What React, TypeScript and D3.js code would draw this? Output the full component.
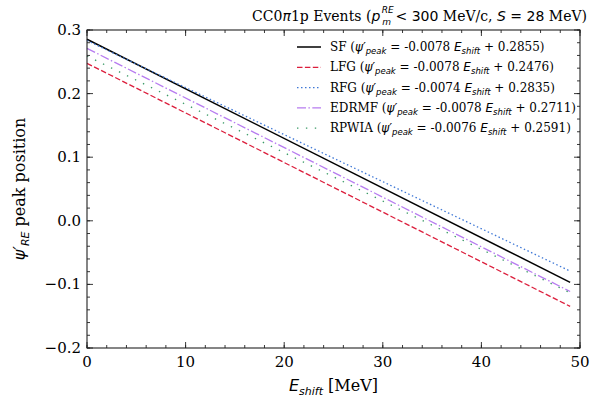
import React from "react";
import * as d3 from "d3";

const models = ["SF", "LFG", "RFG", "EDRMF", "RPWIA"];
const slopes = [-0.0078, -0.0078, -0.0074, -0.0078, -0.0076];
const intercepts = [0.2855, 0.2476, 0.2835, 0.2711, 0.2591];
const eshiftRange = [0, 49];
const colors = ["#000000", "#dc1e3c", "#3f78d6", "#b77cf0", "#3a9a66"];
const dashes = ["", "5.5,2.4", "1.5,2.5", "9,2.4,1.5,2.4", "1.4,7.5"];
const xTicks = [0, 10, 20, 30, 40, 50];
const yTicks = [-0.2, -0.1, 0.0, 0.1, 0.2, 0.3];

const W = 590, H = 399;
const L = 87, R = 580, T = 30, B = 348;
const serif = "'DejaVu Serif', serif";
const sans = "'DejaVu Sans', sans-serif";

export default function App() {
  const x = d3.scaleLinear().domain([0, 50]).range([L, R]);
  const y = d3.scaleLinear().domain([-0.2, 0.3]).range([B, T]);
  const line = d3.line<number>().x((d) => d[0]).y((d) => d[1]);

  const xMinor = d3.range(0, 50.001, 2);
  const yMinor = d3.range(-0.2, 0.3001, 0.02);

  const fmtY = (v: number) => {
    const s = Math.abs(v).toFixed(1);
    return v < -1e-9 ? "\u2212" + s : s;
  };

  return (
    <svg width={W} height={H} style={{ position: "absolute", left: 0, top: 0, background: "#fff" }}>
      <rect x={0} y={0} width={W} height={H} fill="#fff" />
      {/* lines */}
      <g>
        {models.map((m, i) => {
          const pts = eshiftRange.map((e) => [x(e), y(slopes[i] * e + intercepts[i])]);
          return (
            <path
              key={m}
              d={line(pts as any) || ""}
              fill="none"
              stroke={colors[i]}
              strokeWidth={i === 0 ? 1.5 : 1.3}
              strokeDasharray={dashes[i]}
            />
          );
        })}
      </g>
      {/* ticks */}
      <g stroke="#222" strokeWidth={0.9}>
        {xMinor.map((v, i) => (
          <g key={"xm" + i}>
            <line x1={x(v)} x2={x(v)} y1={B} y2={B - 3} />
            <line x1={x(v)} x2={x(v)} y1={T} y2={T + 3} />
          </g>
        ))}
        {xTicks.map((v, i) => (
          <g key={"xM" + i}>
            <line x1={x(v)} x2={x(v)} y1={B} y2={B - 6} />
            <line x1={x(v)} x2={x(v)} y1={T} y2={T + 6} />
          </g>
        ))}
        {yMinor.map((v, i) => (
          <g key={"ym" + i}>
            <line x1={L} x2={L + 3} y1={y(v)} y2={y(v)} />
            <line x1={R} x2={R - 3} y1={y(v)} y2={y(v)} />
          </g>
        ))}
        {yTicks.map((v, i) => (
          <g key={"yM" + i}>
            <line x1={L} x2={L + 6} y1={y(v)} y2={y(v)} />
            <line x1={R} x2={R - 6} y1={y(v)} y2={y(v)} />
          </g>
        ))}
      </g>
      <rect x={L} y={T} width={R - L} height={B - T} fill="none" stroke="#222" strokeWidth={1.1} />
      {/* tick labels */}
      <g fontFamily={serif} fontSize={15} fill="#000">
        {xTicks.map((v) => (
          <text key={"xl" + v} x={x(v)} y={B + 19} textAnchor="middle">
            {v}
          </text>
        ))}
        {yTicks.map((v) => (
          <text key={"yl" + v} x={L - 6} y={y(v) + 5} textAnchor="end">
            {fmtY(v)}
          </text>
        ))}
      </g>
      {/* axis labels */}
      <text x={(L + R) / 2} y={391} textAnchor="middle" fontFamily={serif} fontSize={16}>
        <tspan fontFamily={sans} fontStyle="italic">E</tspan>
        <tspan fontFamily={sans} fontStyle="italic" fontSize={11} dy={4}>shift</tspan>
        <tspan dy={-4}> [MeV]</tspan>
      </text>
      <text
        transform={`translate(25, ${(T + B) / 2}) rotate(-90)`}
        textAnchor="middle"
        fontFamily={serif}
        fontSize={16}
      >
        <tspan fontFamily={sans} fontStyle="italic">ψ′</tspan>
        <tspan fontFamily={sans} fontStyle="italic" fontSize={11} dy={4}>RE</tspan>
        <tspan dy={-4}> peak position</tspan>
      </text>
      {/* title */}
      <text x={587} y={21} textAnchor="end" fontFamily={serif} fontSize={14}>
        <tspan>CC0</tspan>
        <tspan fontFamily={sans} fontStyle="italic">π</tspan>
        <tspan>1p Events (</tspan>
        <tspan fontFamily={sans} fontStyle="italic">p</tspan>
        <tspan fontFamily={sans} fontStyle="italic" fontSize={9} dx={1.5} dy={-8}>RE</tspan>
        <tspan fontFamily={sans} fontStyle="italic" fontSize={9} dx={-11.5} dy={12}>m</tspan>
        <tspan fontFamily={sans} dy={-4}> &lt; 300</tspan>
        <tspan> MeV/c, </tspan>
        <tspan fontFamily={sans} fontStyle="italic">S</tspan>
        <tspan fontFamily={sans}> = 28</tspan>
        <tspan> MeV)</tspan>
      </text>
      {/* legend */}
      <g>
        {models.map((m, i) => {
          const ry = 47 + i * 20.3;
          return (
            <g key={"lg" + m}>
              <line
                x1={297}
                x2={321}
                y1={ry}
                y2={ry}
                stroke={colors[i]}
                strokeWidth={i === 0 ? 1.5 : 1.3}
                strokeDasharray={dashes[i]}
              />
              <text x={330} y={ry + 4} fontFamily={serif} fontSize={12}>
                <tspan>{m} (</tspan>
                <tspan fontFamily={sans} fontStyle="italic">ψ′</tspan>
                <tspan fontFamily={sans} fontStyle="italic" fontSize={8.5} dy={3}>peak</tspan>
                <tspan dy={-3}> = {slopes[i].toFixed(4)} </tspan>
                <tspan fontFamily={sans} fontStyle="italic">E</tspan>
                <tspan fontFamily={sans} fontStyle="italic" fontSize={8.5} dy={3}>shift</tspan>
                <tspan dy={-3}> + {intercepts[i].toFixed(4)})</tspan>
              </text>
            </g>
          );
        })}
      </g>
    </svg>
  );
}
